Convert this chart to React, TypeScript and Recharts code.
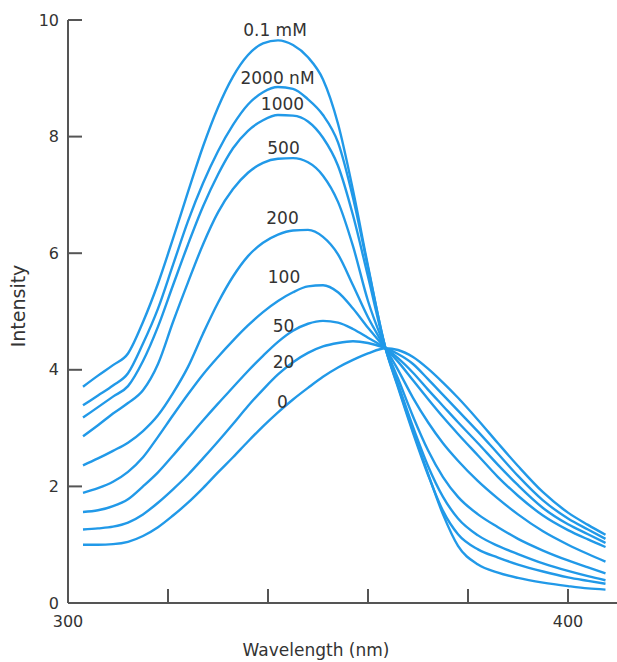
import { LineChart, Line, XAxis, YAxis, ReferenceDot } from 'recharts';

// emission spectra, one curve per concentration
const wavelengths = [
  303, 306, 309, 312, 315, 318, 321, 324, 327, 330, 333, 336, 339, 342, 345, 348, 351, 354, 357, 360,
  363.5, 366, 369, 372, 375, 378, 382, 386, 390, 395, 400, 404, 407.5,
];

const conc01mM = [
  3.71, 3.9, 4.08, 4.28, 4.82, 5.48, 6.25, 7.05, 7.83, 8.5, 9.03, 9.4, 9.6, 9.65, 9.57, 9.36, 8.98, 8.22, 7.08, 5.78,
  4.37, 3.72, 2.95, 2.22, 1.52, 0.98, 0.66, 0.52, 0.43, 0.35, 0.29, 0.25, 0.23,
];
const conc2000 = [
  3.39, 3.56, 3.73, 3.94, 4.45, 5.05, 5.8, 6.55, 7.2, 7.75, 8.2, 8.55, 8.76, 8.85, 8.82, 8.64, 8.37, 7.9, 6.95, 5.75,
  4.37, 3.7, 2.92, 2.2, 1.58, 1.18, 0.92, 0.78, 0.66, 0.54, 0.44, 0.38, 0.33,
];
const conc1000 = [
  3.18, 3.36, 3.54, 3.72, 4.15, 4.74, 5.45, 6.15, 6.8, 7.35, 7.8, 8.1, 8.28, 8.37, 8.36, 8.26, 7.98, 7.5, 6.65, 5.6,
  4.37, 3.76, 3.02, 2.35, 1.82, 1.45, 1.16, 0.98, 0.84, 0.68, 0.55, 0.46, 0.39,
];
const conc500 = [
  2.86, 3.05, 3.25, 3.43, 3.65, 4.1, 4.82, 5.5, 6.15, 6.7, 7.1, 7.38, 7.55, 7.62, 7.63, 7.56, 7.33, 6.88, 6.12, 5.18,
  4.37, 3.85, 3.2, 2.62, 2.16, 1.82, 1.52, 1.3, 1.1, 0.9, 0.73, 0.61, 0.51,
];
const conc200 = [
  2.36, 2.48, 2.61, 2.75, 2.95, 3.22, 3.6, 4.05, 4.62, 5.15, 5.6, 5.95, 6.18, 6.32, 6.39, 6.4, 6.28, 5.98, 5.45, 4.9,
  4.37, 4.0, 3.52, 3.1, 2.74, 2.44, 2.09, 1.79, 1.52, 1.23, 1.0, 0.84, 0.71,
];
const conc100 = [
  1.89, 1.97, 2.08, 2.25, 2.5, 2.85, 3.22, 3.58, 3.92, 4.22, 4.5, 4.76, 4.99, 5.18, 5.33, 5.43, 5.45, 5.33, 5.05, 4.72,
  4.37, 4.14, 3.82, 3.5, 3.19, 2.9, 2.53, 2.16, 1.84, 1.5, 1.25, 1.09, 0.96,
];
const conc50 = [
  1.56, 1.59, 1.66, 1.78, 2.0, 2.24, 2.53, 2.83, 3.13, 3.42, 3.7, 3.98, 4.24, 4.48, 4.67, 4.79, 4.84, 4.81, 4.7, 4.55,
  4.37, 4.2, 3.95, 3.66, 3.38, 3.1, 2.74, 2.37, 2.02, 1.63, 1.35, 1.18, 1.03,
];
const conc20 = [
  1.26, 1.28, 1.31, 1.38, 1.52, 1.72, 1.95, 2.2, 2.48, 2.77, 3.07, 3.38, 3.66, 3.92, 4.13, 4.29, 4.4, 4.46, 4.49, 4.46,
  4.37, 4.27, 4.1, 3.84, 3.57, 3.3, 2.94, 2.56, 2.18, 1.76, 1.45, 1.26, 1.1,
];
const conc0 = [
  1.0, 1.0, 1.01, 1.05, 1.15, 1.3, 1.5, 1.72, 1.97, 2.24, 2.5, 2.77, 3.03, 3.27, 3.49, 3.69, 3.88, 4.04, 4.17, 4.28,
  4.37, 4.34, 4.22, 4.02, 3.78, 3.52, 3.14, 2.74, 2.35, 1.9, 1.55, 1.34, 1.17,
];

const seriesValues = [conc01mM, conc2000, conc1000, conc500, conc200, conc100, conc50, conc20, conc0];
const curveLabels = ['0.1 mM', '2000 nM', '1000', '500', '200', '100', '50', '20', '0'];
// where each curve's label sits (wavelength, intensity)
const labelWavelength = [341.4, 341.9, 342.9, 343.1, 342.9, 343.2, 343.1, 343.1, 342.9];
const labelIntensity = [9.83, 9.01, 8.56, 7.8, 6.6, 5.59, 4.76, 4.13, 3.45];

const xTicks = [300, 320, 340, 360, 380, 400];
const xTickLabels = ['300', '', '', '', '', '400'];
const yTicks = [0, 2, 4, 6, 8, 10];

const data = wavelengths.map((w, i) => {
  const row: Record<string, number> = { w };
  seriesValues.forEach((s, k) => {
    row['s' + k] = s[i];
  });
  return row;
});

const FONT = 'DejaVu Sans, sans-serif';
const AXIS = '#555';
const BLUE = '#2199e8';
const TEXT = '#333';

export default function App() {
  return (
    <div style={{ position: 'absolute', left: 0, top: 0, width: 617, height: 662, background: '#fff' }}>
      <LineChart width={617} height={662} data={data} margin={{ top: 20, right: 0, bottom: 0, left: 0 }}>
        <XAxis
          dataKey="w"
          type="number"
          domain={[300, 409.8]}
          allowDataOverflow
          ticks={xTicks}
          tickFormatter={(v: number) => xTickLabels[xTicks.indexOf(v)] ?? ''}
          height={59}
          tickSize={-14}
          tickMargin={27}
          axisLine={{ stroke: AXIS, strokeWidth: 2 }}
          tickLine={{ stroke: AXIS, strokeWidth: 2 }}
          tick={{ fill: TEXT, fontSize: 16, fontFamily: FONT }}
          label={{
            content: () => (
              <text x={316} y={656} textAnchor="middle" fill={TEXT} fontSize={17} fontFamily={FONT}>
                Wavelength (nm)
              </text>
            ),
          }}
        />
        <YAxis
          type="number"
          domain={[0, 10]}
          ticks={yTicks}
          width={68}
          tickSize={-14}
          tickMargin={23}
          axisLine={{ stroke: AXIS, strokeWidth: 2 }}
          tickLine={{ stroke: AXIS, strokeWidth: 2 }}
          tick={{ fill: TEXT, fontSize: 16, fontFamily: FONT }}
          label={{
            content: () => (
              <text
                x={18}
                y={306}
                transform="rotate(-90 18 306)"
                textAnchor="middle"
                dominantBaseline="central"
                fill={TEXT}
                fontSize={19}
                fontFamily={FONT}
              >
                Intensity
              </text>
            ),
          }}
        />
        {seriesValues.map((_, k) => (
          <Line
            key={k}
            dataKey={'s' + k}
            type="monotone"
            stroke={BLUE}
            strokeWidth={2.4}
            dot={false}
            isAnimationActive={false}
          />
        ))}
        {curveLabels.map((t, k) => (
          <ReferenceDot
            key={t}
            x={labelWavelength[k]}
            y={labelIntensity[k]}
            r={0}
            fill="none"
            stroke="none"
            ifOverflow="visible"
            label={{ value: t, position: 'center', fill: TEXT, fontSize: 17, fontFamily: FONT }}
          />
        ))}
      </LineChart>
    </div>
  );
}
